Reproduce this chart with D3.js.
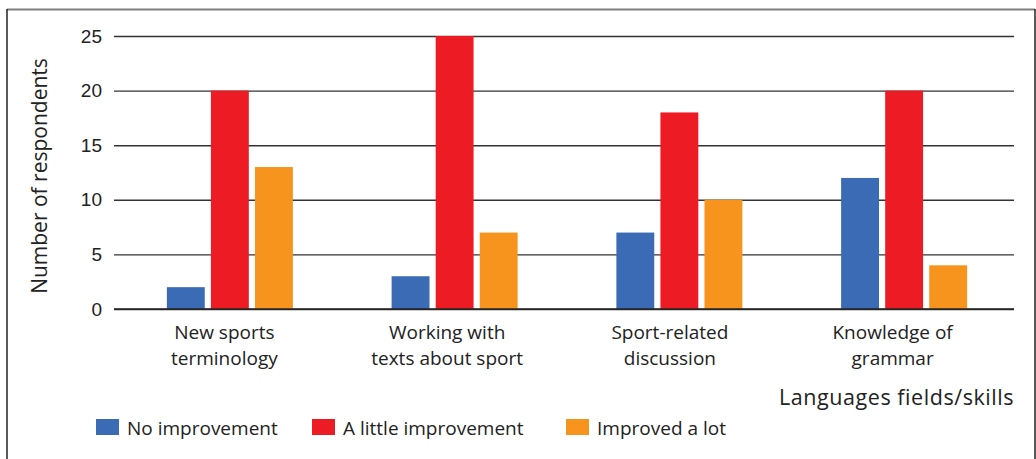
<!DOCTYPE html>
<html>
<head>
<meta charset="utf-8">
<script src="https://cdn.jsdelivr.net/npm/d3@7"></script>
<style>
  html, body { margin: 0; padding: 0; background: #fff; }
  svg { display: block; font-family: "Open Sans", sans-serif; }
</style>
</head>
<body>
<svg id="chart" width="1036" height="459"></svg>
<script>
// Skills asked about, and how many respondents reported each level of improvement
const categories = [
  ["New sports", "terminology"],
  ["Working with", "texts about sport"],
  ["Sport-related", "discussion"],
  ["Knowledge of", "grammar"]
];
const seriesNames = ["No improvement", "A little improvement", "Improved a lot"];
const noImprovement = [2, 3, 7, 12];
const littleImprovement = [20, 25, 18, 20];
const improvedALot = [13, 7, 10, 4];
const yTicks = [0, 5, 10, 15, 20, 25];
const seriesColors = ["#3b6bb5", "#ed1c24", "#f7941d"];
const seriesValues = [noImprovement, littleImprovement, improvedALot];

const svg = d3.select("#chart");

// frame around the figure
svg.append("line").attr("x1", 7).attr("x2", 1035).attr("y1", 9.5).attr("y2", 9.5)
  .attr("stroke", "#808080").attr("stroke-width", 2);
svg.append("line").attr("x1", 7).attr("x2", 7).attr("y1", 9).attr("y2", 459)
  .attr("stroke", "#222").attr("stroke-width", 1.5);
svg.append("line").attr("x1", 1035).attr("x2", 1035).attr("y1", 9).attr("y2", 459)
  .attr("stroke", "#222").attr("stroke-width", 1.5);

const plotLeft = 114, plotRight = 1014;
const y = d3.scaleLinear().domain([0, 25]).range([309, 36]);
const x0 = d3.scaleBand().domain(d3.range(categories.length)).range([117.5, 1016.5]);
const x1 = d3.scaleBand().domain(d3.range(seriesNames.length)).range([0, 126]).paddingInner(0.14);
// category labels sit on a slightly narrower band than the bar groups
const xLabel = d3.scaleBand().domain(d3.range(categories.length)).range([113, 1004]);

// horizontal gridlines and y tick labels
const yAxis = d3.axisLeft(y).tickValues(yTicks).tickSize(-(plotRight - plotLeft)).tickPadding(12);
const gy = svg.append("g").attr("transform", `translate(${plotLeft},0)`).call(yAxis);
gy.select(".domain").remove();
gy.selectAll(".tick line").attr("stroke", "#333").attr("stroke-width", 1.4);
gy.selectAll(".tick text").attr("fill", "#222").attr("font-size", 19).attr("dx", 0);

// bars
const groups = svg.append("g").selectAll("g").data(categories).join("g")
  .attr("transform", (d, i) => `translate(${x0(i) + x0.bandwidth() / 2 - 63},0)`);
groups.selectAll("rect")
  .data((d, i) => seriesValues.map((vals, s) => ({ s, v: vals[i] })))
  .join("rect")
  .attr("x", d => x1(d.s))
  .attr("width", x1.bandwidth())
  .attr("y", d => y(d.v))
  .attr("height", d => y(0) - y(d.v))
  .attr("fill", d => seriesColors[d.s]);

// baseline redrawn over the bars
svg.append("line").attr("x1", plotLeft).attr("x2", plotRight).attr("y1", y(0)).attr("y2", y(0))
  .attr("stroke", "#222").attr("stroke-width", 1.4);

// category labels under each group
const xLabels = svg.append("g").selectAll("text").data(categories).join("text")
  .attr("x", (d, i) => xLabel(i) + xLabel.bandwidth() / 2)
  .attr("y", 339)
  .attr("text-anchor", "middle")
  .attr("font-size", 19)
  .attr("fill", "#222");
xLabels.selectAll("tspan").data(d => d).join("tspan")
  .attr("x", function () { return d3.select(this.parentNode).attr("x"); })
  .attr("dy", (d, j) => j === 0 ? 0 : 26)
  .text(d => d);

// axis titles
svg.append("text")
  .attr("transform", "translate(47,176) rotate(-90)")
  .attr("text-anchor", "middle")
  .attr("font-size", 21)
  .attr("fill", "#222")
  .text("Number of respondents");

svg.append("text")
  .attr("x", plotRight).attr("y", 405)
  .attr("text-anchor", "end")
  .attr("font-size", 21.5)
  .attr("letter-spacing", 0.55)
  .attr("fill", "#222")
  .text("Languages fields/skills");

// legend
const legendX = [96, 312, 566];
const legend = svg.append("g").selectAll("g").data(seriesNames).join("g")
  .attr("transform", (d, i) => `translate(${legendX[i]},419)`);
legend.append("rect").attr("width", 23).attr("height", 16)
  .attr("fill", (d, i) => seriesColors[i]);
legend.append("text").attr("x", 31).attr("y", 16)
  .attr("font-size", 19).attr("fill", "#222")
  .text(d => d);
</script>
</body>
</html>
